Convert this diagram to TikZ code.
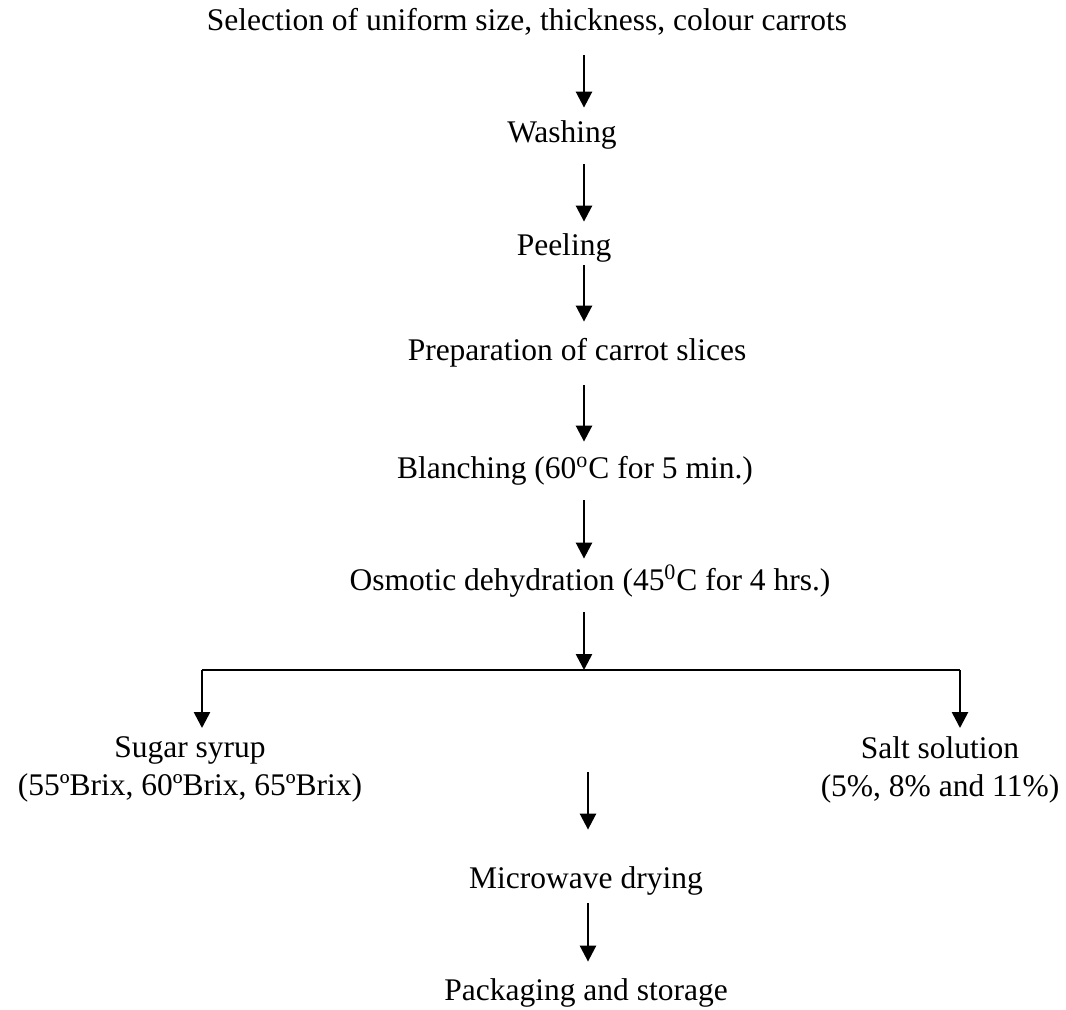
\documentclass[tikz,border=0pt]{standalone}
\usepackage{fontspec}
\setmainfont{Liberation Serif}
\usetikzlibrary{arrows.meta, positioning, calc}

\begin{document}
\begin{tikzpicture}[
    x=0.5pt, y=-0.5pt,
    >={Triangle[width=8pt,length=8pt]},
    txt/.style={inner sep=0pt, font=\fontsize{15.75pt}{19pt}\selectfont},
    stepnode/.style={txt, anchor=base, text height=11pt, text depth=3.5pt},
    solution/.style={txt, anchor=north, align=center},
    flow/.style={->, line width=1.3pt, shorten <=7.5pt, shorten >=6pt},
    branch/.style={line width=1pt}
]
    \useasboundingbox (0,0) rectangle (1066,1009);

    % Main process steps (baselines in px, y down)
    \node[stepnode] (title) at (527,30) {Selection of uniform size, thickness, colour carrots};
    \node[stepnode] (washing) at (562,142) {Washing};
    \node[stepnode] (peeling) at (564,255) {Peeling};
    \node[stepnode] (slices) at (577,360) {Preparation of carrot slices};
    \node[stepnode] (blanching) at (575,478) {Blanching (60\textsuperscript{o}C for 5 min.)};
    \node[stepnode] (osmotic) at (590,590) {Osmotic dehydration (45\textsuperscript{0}C for 4 hrs.)};

    % Osmotic media
    \node[solution] (sugar) at (190,736) {Sugar syrup\\(55ºBrix, 60ºBrix, 65ºBrix)};
    \node[solution] (salt) at (940,736) {Salt solution\\(5\%, 8\% and 11\%)};

    % Final steps
    \node[stepnode] (microwave) at (586,888) {Microwave drying};
    \node[stepnode] (packaging) at (586,1000) {Packaging and storage};

    % Helper coordinates
    \coordinate (spine) at (584,0);
    \coordinate (fork_l) at (202,670);
    \coordinate (fork_r) at (960,670);
    \coordinate (merge) at (588,772);

    % --- Arrows ---
    \draw[flow, shorten <=9pt] (title.south -| spine) -- (washing.north -| spine);
    \draw[flow, shorten >=5.5pt] (washing.south -| spine) -- (peeling.north -| spine);
    \draw[flow, shorten <=1.5pt, shorten >=8pt] (peeling.south -| spine) -- (slices.north -| spine);
    \draw[flow, shorten <=9pt, shorten >=7pt] (slices.south -| spine) -- (blanching.north -| spine);
    \draw[flow, shorten >=4.5pt] (blanching.south -| spine) -- (osmotic.north -| spine);
    \draw[flow, shorten >=0pt] (osmotic.south -| spine) -- (spine |- fork_l);

    % Branch to the two solutions
    \draw[branch] (fork_l) -- (fork_r);
    \draw[flow, shorten <=0pt, shorten >=4pt] (fork_l) -- (sugar.north -| fork_l);
    \draw[flow, shorten <=0pt, shorten >=4pt] (fork_r) -- (salt.north -| fork_r);

    % Merge to drying and storage
    \draw[flow, shorten <=0pt, shorten >=18pt] (merge) -- (microwave.north -| merge);
    \draw[flow, shorten <=4pt, shorten >=8pt] (microwave.south -| merge) -- (packaging.north -| merge);

\end{tikzpicture}
\end{document}
